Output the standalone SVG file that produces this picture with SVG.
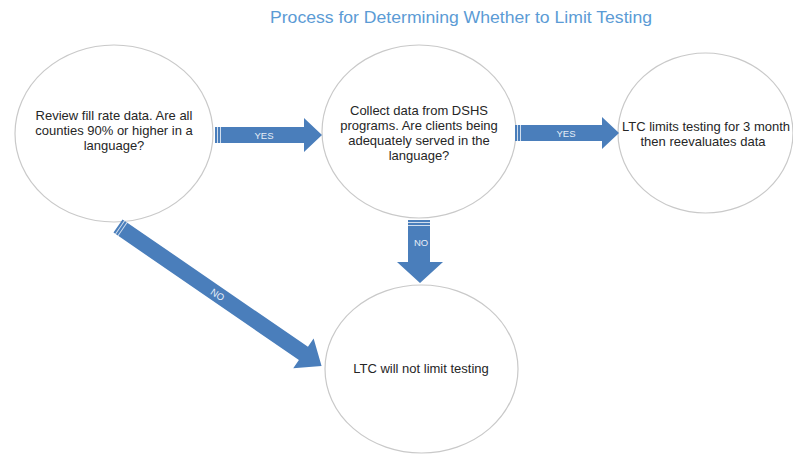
<svg xmlns="http://www.w3.org/2000/svg" width="793" height="454" viewBox="0 0 793 454">
<style>
.node{fill:#ffffff;stroke:#c9c9c9;stroke-width:1.2}
.t{font-family:"Liberation Sans",Arial,sans-serif;font-size:13px;fill:#262626;text-anchor:middle}
.title{font-family:"Liberation Sans",Arial,sans-serif;font-size:16px;fill:#5b9bd5;text-anchor:middle}
.arrow{fill:#4a7ebb}
.stripe{fill:#ffffff;opacity:0.75}
.lbl{font-family:"Liberation Sans",Arial,sans-serif;font-size:9.5px;fill:#e6edf7;text-anchor:middle}
</style>
<rect width="793" height="454" fill="#ffffff"/>
<text class="title" x="461" y="23" textLength="382" lengthAdjust="spacingAndGlyphs">Process for Determining Whether to Limit Testing</text>

<g id="node-review">
<ellipse class="node" cx="114" cy="133.5" rx="99" ry="88.5"/>
<text class="t" x="114" y="120">Review fill rate data. Are all</text>
<text class="t" x="114" y="135">counties 90% or higher in a</text>
<text class="t" x="114" y="150">language?</text>
</g>

<g id="node-collect">
<ellipse class="node" cx="419" cy="131.5" rx="97" ry="86.5"/>
<text class="t" x="419" y="115">Collect data from DSHS</text>
<text class="t" x="419" y="130">programs. Are clients being</text>
<text class="t" x="419" y="145">adequately served in the</text>
<text class="t" x="419" y="160">language?</text>
</g>

<g id="node-limit">
<ellipse class="node" cx="705.5" cy="133" rx="87.5" ry="80"/>
<text class="t" x="706" y="131">LTC limits testing for 3 month</text>
<text class="t" x="703" y="146">then reevaluates data</text>
</g>

<g id="node-nolimit">
<ellipse class="node" cx="421.5" cy="369" rx="96.5" ry="84"/>
<text class="t" x="421" y="373">LTC will not limit testing</text>
</g>

<g id="connectors">
<g id="yes1">
<polygon class="arrow" points="215,127 304,127 304,118 322,135 304,152 304,143 215,143"/>
<rect class="stripe" x="217" y="127" width="1" height="16"/>
<rect class="stripe" x="220" y="127" width="1" height="16"/>
<text class="lbl" x="264" y="138.5">YES</text>
</g>
<g id="yes2">
<polygon class="arrow" points="515,125 602,125 602,117 619,133 602,149 602,141 515,141"/>
<rect class="stripe" x="517" y="125" width="1" height="16"/>
<rect class="stripe" x="520" y="125" width="1" height="16"/>
<text class="lbl" x="566" y="136.5">YES</text>
</g>
<g id="no1">
<polygon class="arrow" points="408,220 430,220 430,262 443,262 420,283 397,262 408,262"/>
<rect class="stripe" x="408" y="222" width="22" height="1"/>
<rect class="stripe" x="408" y="225" width="22" height="1"/>
<text class="lbl" x="421" y="246">NO</text>
</g>
<g id="no2" transform="translate(118,226) rotate(34.5)">
<polygon class="arrow" points="0,-8 225,-8 225,-18 247,0 225,18 225,8 0,8"/>
<rect class="stripe" x="2" y="-8" width="1" height="16"/>
<rect class="stripe" x="5" y="-8" width="1" height="16"/>
<text class="lbl" x="121" y="3.5">NO</text>
</g>
</g>
</svg>
